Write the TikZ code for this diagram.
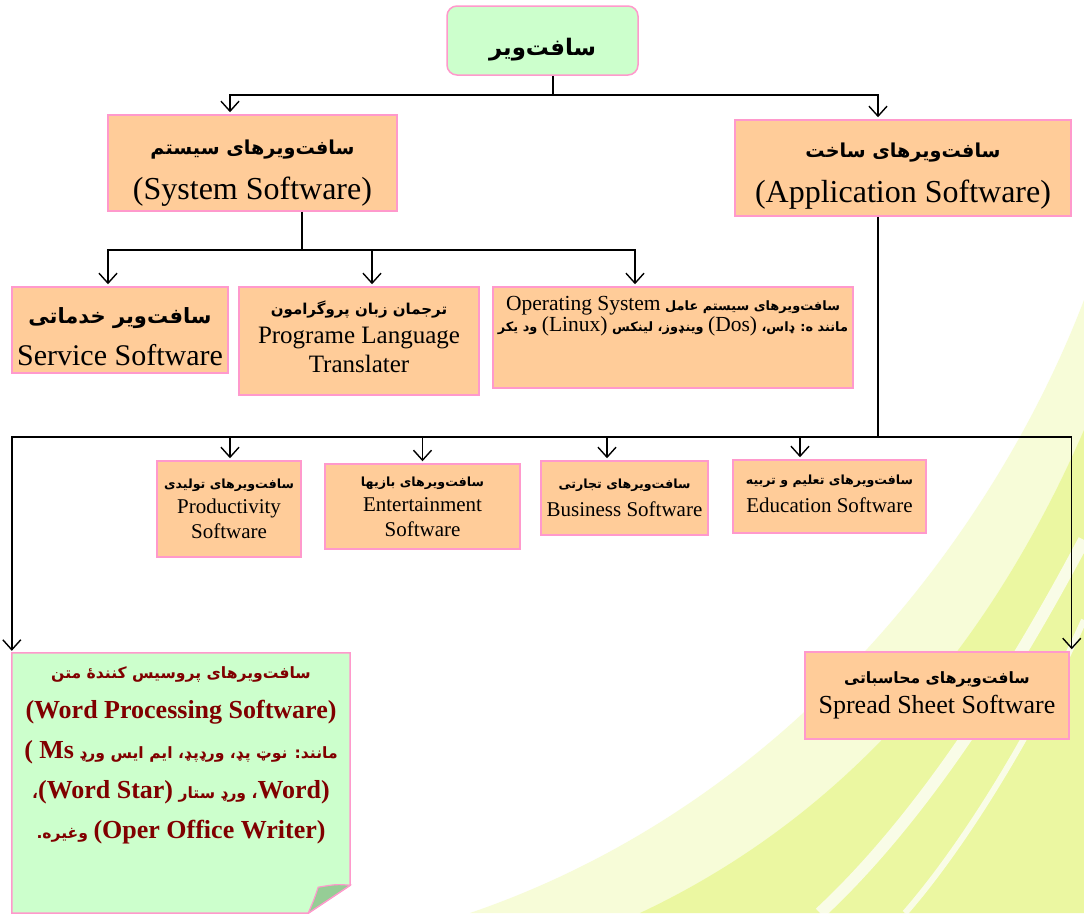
\documentclass[tikz,border=0pt]{standalone}
\usepackage{fontspec}
\setmainfont{Liberation Serif}
\newfontfamily\fafont[Script=Arabic, Scale=0.6]{DejaVu Sans}
\TeXXeTstate=1
\usetikzlibrary{arrows.meta, positioning, calc, backgrounds}
\definecolor{boxpeach}{RGB}{255,204,153}
\definecolor{boxpink}{RGB}{255,153,204}
\definecolor{rootgreen}{RGB}{204,255,204}
\definecolor{flapgreen}{RGB}{150,205,150}
\definecolor{wpred}{RGB}{128,0,0}
\definecolor{swoosh}{RGB}{215,240,60}
\newcommand{\pers}[1]{{\fafont\bfseries\beginR#1\endR}}
\newcommand{\latn}[1]{\beginL{\rmfamily\mdseries#1}\endL}

\begin{document}
\begin{tikzpicture}[x=1pt, y=-1pt,
  box/.style={draw=boxpink, fill=boxpeach, line width=1.5pt, align=center, inner sep=0pt},
  link/.style={line width=1.4pt},
  arr/.style={line width=1.4pt, -{Straight Barb[length=10pt,width=18pt]}, shorten >=2pt}
]
  \clip (0,0) rectangle (1084,913);
  % background swoosh
  \begin{scope}[on background layer]
    \fill[white] (0,0) rectangle (1084,913);
    \fill[swoosh, opacity=.2] (1084,300) .. controls (1000,520) and (800,800) .. (470,913) -- (1084,913) -- cycle;
    \fill[swoosh, opacity=.35] (1084,430) .. controls (1010,600) and (880,800) .. (640,913) -- (1084,913) -- cycle;
    \draw[white, line width=12pt, opacity=.75] (1084,540) .. controls (1010,680) and (920,820) .. (820,913);
    \draw[white, line width=6pt, opacity=.75] (1084,620) .. controls (1030,740) and (960,850) .. (905,913);
  \end{scope}

  \node[box, rounded corners=10pt, fill=rootgreen, minimum width=191pt, minimum height=69pt,
    font=\fontsize{38}{44}\selectfont] (root) at (542.5,40.5) {\rule{0pt}{36pt}\pers{سافت‌ویر}};

  \node[box, minimum width=289pt, minimum height=96pt, font=\fontsize{32}{45}\selectfont] (sys) at (252.5,163)
    {\rule{0pt}{34pt}\pers{سافت‌ویرهای سیستم}\\(System Software)};
  \node[box, minimum width=336pt, minimum height=96pt, font=\fontsize{32}{45}\selectfont] (app) at (903,168)
    {\rule{0pt}{30pt}\pers{سافت‌ویرهای ساخت}\\(Application Software)};

  \node[box, minimum width=216pt, minimum height=86pt, font=\fontsize{30}{42}\selectfont] (svc) at (120,330)
    {\rule{0pt}{30pt}\pers{\fontsize{35}{40}\selectfont سافت‌ویر خدماتی}\\Service Software};
  \node[box, minimum width=240pt, minimum height=108pt, font=\fontsize{25}{29}\selectfont] (lang) at (359,341)
    {\pers{ترجمان زبان پروگرامون}\\Programe Language\\Translater\rule[-8pt]{0pt}{8pt}};
  \node[box, minimum width=360pt, minimum height=101pt, font=\fontsize{21.5}{21}\selectfont] (os) at (673,337.5)
    {\pers{سافت‌ویرهای سیستم عامل \latn{Operating System}}\\
     \pers{مانند ه: ډاس، \latn{(Dos)} وینډوز، لینکس \latn{(Linux)} ود یکر}\rule[-48pt]{0pt}{48pt}};

  \node[box, minimum width=144pt, minimum height=96pt, font=\fontsize{21}{25}\selectfont] (prod) at (229,509)
    {\pers{سافت‌ویرهای تولیدی}\\Productivity\\Software};
  \node[box, minimum width=195pt, minimum height=85pt, font=\fontsize{21}{25}\selectfont] (ent) at (422.5,506.5)
    {\pers{سافت‌ویرهای بازیها}\\Entertainment\\Software};
  \node[box, minimum width=167pt, minimum height=74pt, font=\fontsize{21}{28}\selectfont] (bus) at (624.5,498)
    {\pers{سافت‌ویرهای تجارتی}\\Business Software};
  \node[box, minimum width=193pt, minimum height=73pt, font=\fontsize{21}{28}\selectfont] (edu) at (829.5,496.5)
    {\pers{سافت‌ویرهای تعلیم و تربیه}\\Education Software\rule[-6pt]{0pt}{6pt}};

  \node[align=center, inner sep=0pt, minimum width=338pt, minimum height=260pt, text=wpred,
    font=\fontsize{26}{40}\selectfont\bfseries] (wp) at (181,783)
    {\pers{سافت‌ویرهای پروسیس کنندهٔ متن}\\
     (Word Processing Software)\\
     \pers{مانند: نوټ پډ، ورډپډ، ایم ایس ورډ \latn{\bfseries( Ms}}\\
     \pers{\latn{\bfseries Word)}، ورډ ستار \latn{\bfseries(Word Star)}،}\\
     \pers{\latn{\bfseries(Oper Office Writer)} وغیره\kern0pt.}\rule[-60pt]{0pt}{60pt}};
  \begin{scope}[on background layer]
    \filldraw[fill=rootgreen, draw=boxpink, line width=1.5pt] (wp.north west) -- (wp.north east)
      -- ([yshift=28pt]wp.south east) -- ([xshift=-42pt]wp.south east) -- (wp.south west) -- cycle;
    \filldraw[fill=flapgreen, draw=boxpink, line width=1.2pt] ([yshift=28pt]wp.south east)
      .. controls ([xshift=-14pt,yshift=29pt]wp.south east) .. ([xshift=-32pt,yshift=26pt]wp.south east)
      .. controls ([xshift=-36pt,yshift=14pt]wp.south east) .. ([xshift=-42pt]wp.south east) -- cycle;
  \end{scope}

  \node[box, minimum width=264pt, minimum height=87pt, font=\fontsize{26}{30}\selectfont] (ss) at (937,695.5)
    {\pers{سافت‌ویرهای محاسباتی}\\Spread Sheet Software};

  % connectors
  \coordinate (rb) at (553,95);
  \coordinate (sb) at (302,250);
  \coordinate (ab) at (878,437);
  \draw[link] ([xshift=10.5pt]root.south) -- (rb);
  \draw[arr] (rb) -| ([xshift=-22.5pt]sys.north);
  \draw[arr] (rb) -| ([xshift=-25pt]app.north);

  \draw[link] ([xshift=49.5pt]sys.south) -- (sb);
  \draw[arr] (sb) -| ([xshift=-12pt]svc.north);
  \draw[arr] (sb) -| ([xshift=13pt]lang.north);
  \draw[arr] (sb) -| ([xshift=-38pt]os.north);

  \draw[link] (app.south -| ab) -- (ab);
  \draw[arr] (ab) -| (wp.north west);
  \draw[arr] (ab) -| ([xshift=1pt]prod.north);
  \draw[arr] (ab) -| (ent.north);
  \draw[arr] (ab) -| ([xshift=-17.5pt]bus.north);
  \draw[arr] (ab) -| ([xshift=-29.5pt]edu.north);
  \draw[arr] (ab) -| ([xshift=2pt]ss.north east);
\end{tikzpicture}
\end{document}
